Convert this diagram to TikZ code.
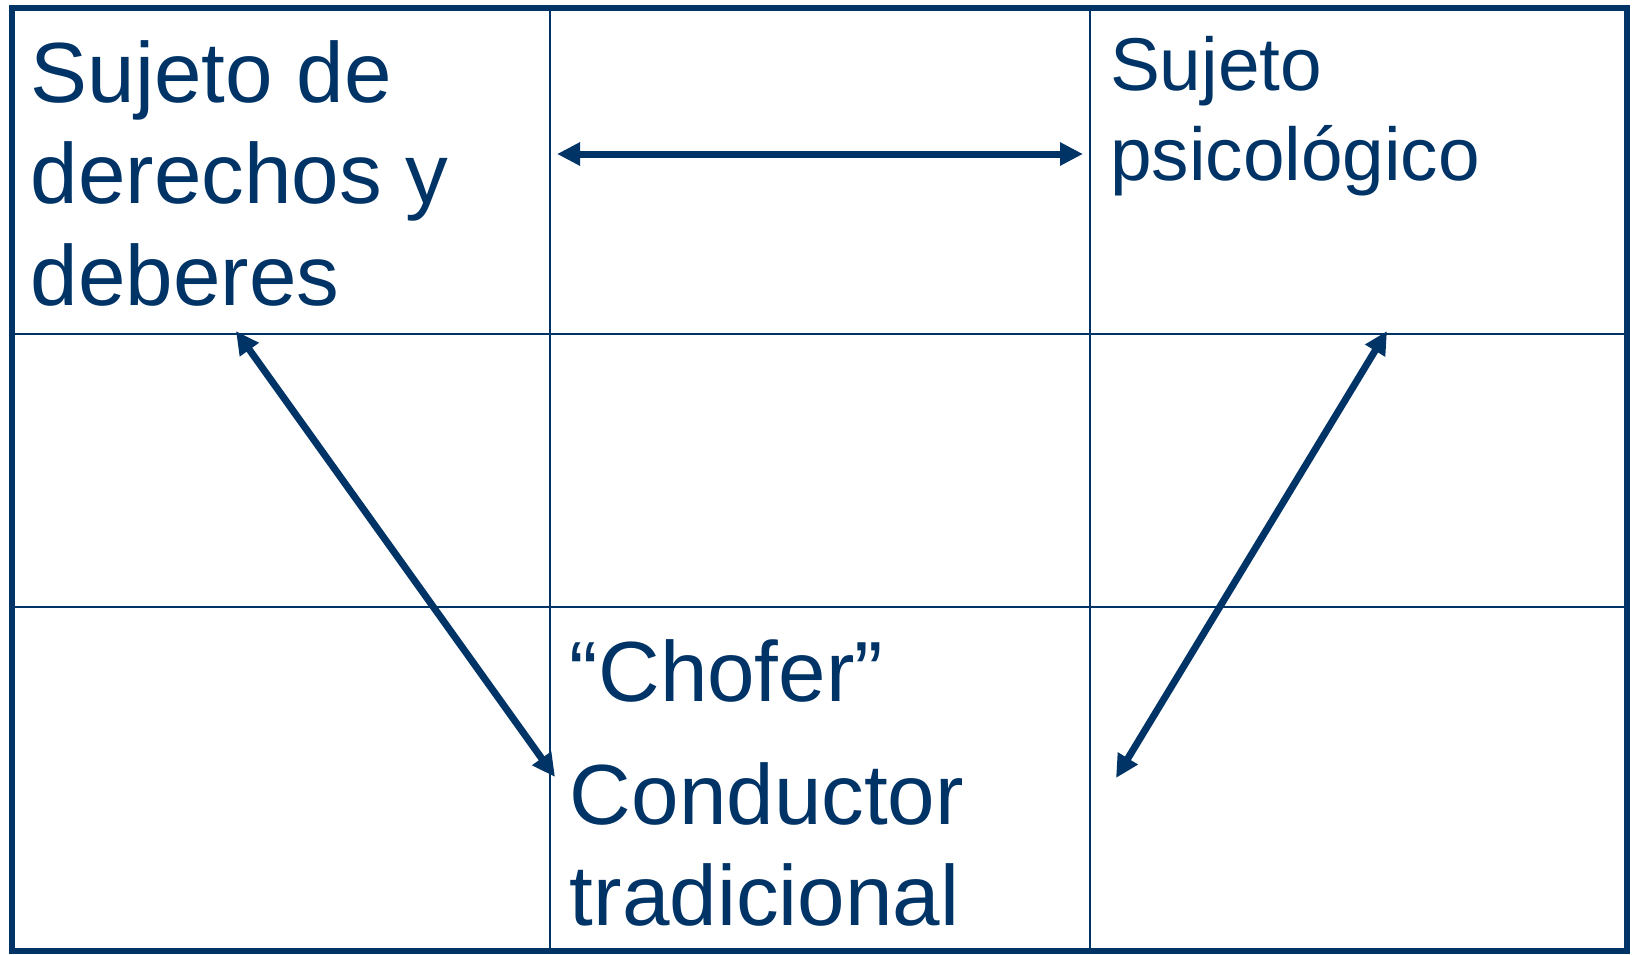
\documentclass[tikz,border=0pt]{standalone}
\usepackage{fontspec}
\setmainfont{Liberation Sans}
\usetikzlibrary{arrows.meta}
\definecolor{navy}{RGB}{0,51,102}
\begin{document}
\begin{tikzpicture}[x={(0.5pt,0)}, y={(0,-0.5pt)},
  outer/.style={draw=navy, line width=2.6pt},
  grid/.style={draw=navy, line width=1.3pt},
  conn/.style={draw=navy, line width=3.5pt, {Triangle[length=11.5pt,width=11pt]}-{Triangle[length=11.5pt,width=11pt]}},
  celltext/.style={anchor=north west, inner sep=0pt, align=left, text=navy},
  big/.style={font=\fontsize{42.7pt}{50.75pt}\selectfont},
  small/.style={font=\fontsize{37.4pt}{45pt}\selectfont}]
\useasboundingbox (0,0) rectangle (1632,954);
\fill[white] (0,0) rectangle (1632,954);
% grid
\draw[grid] (550,8) -- (550,951);
\draw[grid] (1090,8) -- (1090,951);
\draw[grid] (12,334) -- (1627,334);
\draw[grid] (12,607) -- (1627,607);
\draw[outer] (12,8) rectangle (1627,951);
% texts
\node[celltext, big] (derechos) at (30.5,31) {\strut Sujeto de\\derechos y\\deberes};
\node[celltext, small] (psico) at (1109.6,27) {\strut Sujeto\\psicológico};
\node[celltext, font=\fontsize{42.7pt}{50.5pt}\selectfont] (chofer) at (569.5,630.3) {\strut “Chofer”\\[11pt]Conductor\\tradicional};
% arrow end points
\coordinate (hL) at (557,154);
\coordinate (hR) at (1083,154);
\coordinate (dLt) at (236,331);
\coordinate (dLb) at (555,777);
\coordinate (dRt) at (1387,331);
\coordinate (dRb) at (1116,778);
\draw[conn] (hL) -- (hR);
\draw[conn] (dLt) -- (dLb);
\draw[conn] (dRt) -- (dRb);
\end{tikzpicture}
\end{document}
